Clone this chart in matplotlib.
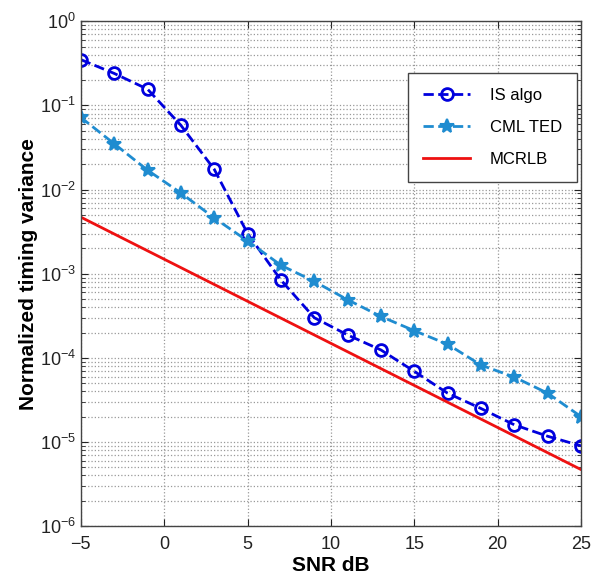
import matplotlib
matplotlib.use('Agg')
import matplotlib.pyplot as plt
from matplotlib.ticker import LogLocator, NullFormatter, FixedLocator

plt.rcParams['font.family'] = ['Liberation Sans', 'DejaVu Sans']
plt.rcParams['mathtext.fontset'] = 'custom'
plt.rcParams['mathtext.rm'] = 'Liberation Sans'

# SNR values (dB)
snr = [-5, -3, -1, 1, 3, 5, 7, 9, 11, 13, 15, 17, 19, 21, 23, 25]

# IS algorithm timing variance
is_algo = [0.35, 0.24, 0.156, 0.058, 0.0174, 0.0030, 0.00084, 0.00030,
           0.000187, 0.000124, 6.9e-5, 3.8e-5, 2.5e-5, 1.6e-5, 1.17e-5, 9.0e-6]

# CML TED timing variance
cml_ted = [0.072, 0.035, 0.017, 0.0091, 0.0046, 0.00245, 0.00126, 0.00081,
           0.00049, 0.00031, 0.00021, 0.000145, 8.2e-5, 5.9e-5, 3.8e-5, 2.0e-5]

# MCRLB bound (straight line on log scale)
mcrlb_snr = [-5, 25]
mcrlb = [4.7e-3, 4.7e-6]

fig = plt.figure(figsize=(5.99, 5.75), dpi=100)
ax = fig.add_axes([0.135, 0.085, 0.835, 0.878])

ax.semilogy(snr, is_algo, '--o', color='#0000dd', lw=2, ms=8.5,
            mfc='none', mew=2, label='IS algo')
ax.semilogy(snr, cml_ted, '--*', color='#1f8cd0', lw=2, ms=10, mew=1.5,
            label='CML TED')
ax.semilogy(mcrlb_snr, mcrlb, '-', color='#ee1111', lw=2, label='MCRLB')

ax.set_xlim(-5, 25)
ax.set_ylim(1e-6, 1)
ax.xaxis.set_major_locator(FixedLocator([-5, 0, 5, 10, 15, 20, 25]))
ax.yaxis.set_major_locator(LogLocator(base=10, numticks=10))
ax.yaxis.set_minor_locator(LogLocator(base=10, subs=range(2, 10), numticks=20))
ax.yaxis.set_minor_formatter(NullFormatter())
ax.set_xticklabels(['\u22125', '0', '5', '10', '15', '20', '25'])

ax.grid(True, which='major', ls=':', color='#999999', lw=0.9)
ax.grid(True, which='minor', axis='y', ls=':', color='#999999', lw=0.9)

ax.tick_params(which='both', direction='in', top=True, right=True,
               labelsize=13, colors='#222222')
ax.tick_params(which='major', length=5)
ax.tick_params(which='minor', length=3)
ax.tick_params(axis='x', pad=7)
for s in ax.spines.values():
    s.set_color('#444444')
    s.set_linewidth(1)

ax.set_xlabel('SNR dB', fontsize=15, fontweight='bold', labelpad=2)
ax.set_ylabel('Normalized timing variance', fontsize=15, fontweight='bold', labelpad=1)

leg = ax.legend(loc='upper right', bbox_to_anchor=(0.992, 0.897), borderaxespad=0,
                fontsize=12, fancybox=False, edgecolor='#444444', framealpha=1,
                handlelength=2.8, borderpad=0.9, labelspacing=1.0, handletextpad=1.2)
leg.get_frame().set_linewidth(1)

fig.savefig('out.png', dpi=100)
